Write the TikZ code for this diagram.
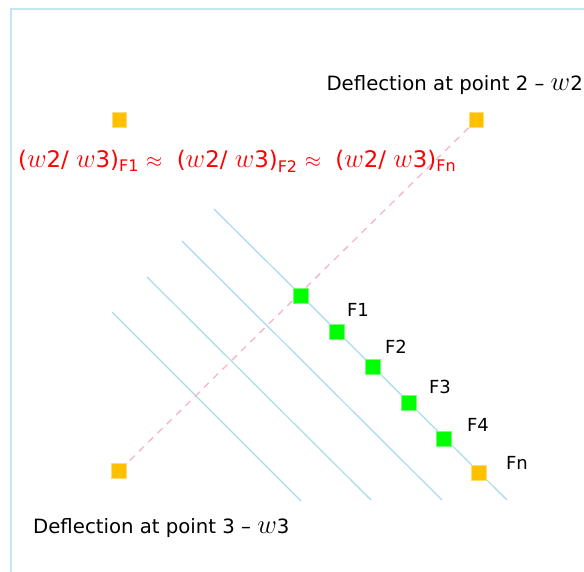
\documentclass[tikz,border=0pt]{standalone}
\usepackage{fontspec}
\setmainfont{DejaVu Sans}
\definecolor{orangeq}{HTML}{FFC000}
\definecolor{greenq}{HTML}{00FF00}
\definecolor{lineblue}{HTML}{A9DCEB}
\definecolor{frameblue}{HTML}{C3E6F3}
\definecolor{pinkd}{HTML}{F5B6C8}
\definecolor{redt}{HTML}{FF0000}
\newcommand{\ww}{\scalebox{1.3}{$w$}}
\begin{document}
\begin{tikzpicture}[x=1pt,y=-1pt,
  sq/.style={draw=#1!55!white, fill=#1, minimum size=14.5pt, inner sep=0pt, line width=0.6pt},
  bl/.style={draw=lineblue, line width=1.2pt},
  pk/.style={draw=pinkd, line width=1.3pt, dash pattern=on 7pt off 6pt},
  lab/.style={font=\fontsize{18}{22}\selectfont, inner sep=0pt},
  deflab/.style={font=\fontsize{19.7}{23}\selectfont, inner sep=0pt},
  redlab/.style={font=\fontsize{22.8}{27}\selectfont, text=redt, inner sep=0pt}]
\useasboundingbox (0,0) rectangle (584,571);
\fill[white] (0,0) rectangle (584,571);
\draw[draw=frameblue, line width=2pt] (11,600) -- (11,9) -- (600,9);
% blue parallel lines
\coordinate (a1) at (214,209); \coordinate (b1) at (507,500);
\coordinate (a2) at (182,241); \coordinate (b2) at (442,500);
\coordinate (a3) at (147,277); \coordinate (b3) at (371,500);
\coordinate (a4) at (112,312); \coordinate (b4) at (301,501);
\draw[bl] (a1) -- (b1);
\draw[bl] (a2) -- (b2);
\draw[bl] (a3) -- (b3);
\draw[bl] (a4) -- (b4);
% squares
\node[sq=orangeq] (o1) at (119.5,120) {};
\node[sq=orangeq] (o2) at (476.5,120) {};
\node[sq=orangeq] (o3) at (119,471) {};
\draw[pk, shorten <=15pt, shorten >=11pt] (o3.center) -- (o2.center);
\node[sq=greenq] (g1) at (301,296) {};
\node[sq=greenq] (g2) at (337,332) {};
\node[sq=greenq] (g3) at (373,367) {};
\node[sq=greenq] (g4) at (409,403) {};
\node[sq=greenq] (g5) at (444,439) {};
\node[sq=orangeq] (g6) at (479,473) {};
% labels
\node[lab] (f1) at (358,310) {F1};
\node[lab] (f2) at (396,347) {F2};
\node[lab] (f3) at (440,387) {F3};
\node[lab] (f4) at (478,425) {F4};
\node[lab] (fn) at (517,463) {Fn};
\node[deflab, anchor=east] (t2) at (583,85) {Deflection at point 2 -- \ww2};
\node[deflab, anchor=west] (t3) at (33,528) {Deflection at point 3 -- \ww3};
\node[redlab, anchor=west] (rf) at (18,161) {(\ww2/ \ww3)\textsubscript{F1} $\approx$ \ (\ww2/ \ww3)\textsubscript{F2} $\approx$ \ (\ww2/ \ww3)\textsubscript{Fn}};
\end{tikzpicture}
\end{document}
